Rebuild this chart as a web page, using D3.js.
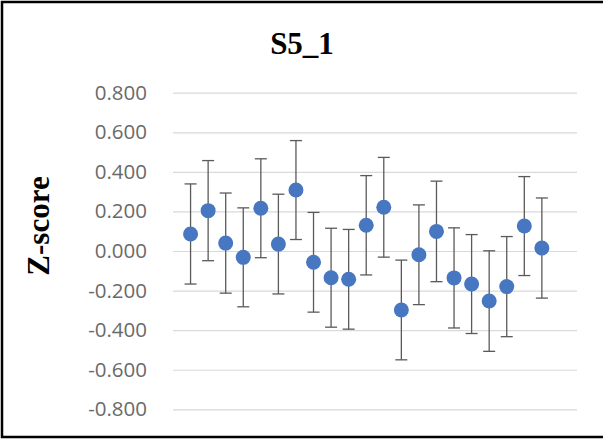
<!DOCTYPE html>
<html>
<head>
<meta charset="utf-8">
<script src="https://cdn.jsdelivr.net/npm/d3@7"></script>
<style>
  html, body { margin: 0; padding: 0; background: #fff; }
  svg { display: block; }
</style>
</head>
<body>
<script>
// ---- data ----
const title = "S5_1";
const yLabel = "Z-score";
const xValues = [1,2,3,4,5,6,7,8,9,10,11,12,13,14,15,16,17,18,19,20,21];
const zScores = [0.086, 0.204, 0.040, -0.032, 0.216, 0.035, 0.308, -0.057, -0.135, -0.143, 0.130,
                 0.221, -0.298, -0.019, 0.099, -0.136, -0.167, -0.253, -0.180, 0.126, 0.015];
const errors  = [0.253, 0.253, 0.253, 0.250, 0.250, 0.252, 0.250, 0.252, 0.250, 0.252, 0.251,
                 0.252, 0.252, 0.252, 0.254, 0.253, 0.250, 0.254, 0.253, 0.250, 0.253];
const yTicks = [0.8, 0.6, 0.4, 0.2, 0.0, -0.2, -0.4, -0.6, -0.8];
const yTickLabels = ["0.800", "0.600", "0.400", "0.200", "0.000", "-0.200", "-0.400", "-0.600", "-0.800"];

const W = 603, H = 439;
const svg = d3.select("body").append("svg").attr("width", W).attr("height", H);

// frame
svg.append("rect").attr("x", 2).attr("y", 2).attr("width", W + 4).attr("height", 435)
  .attr("fill", "#fff").attr("stroke", "#000").attr("stroke-width", 2.5);

const x = d3.scaleLinear().domain([0, 23]).range([173, 577]);
const y = d3.scaleLinear().domain([-0.8, 0.8]).range([409.3, 92.7]);

// y axis with gridlines
const yAxis = d3.axisLeft(y).tickValues(yTicks)
  .tickFormat((d, i) => yTickLabels[i])
  .tickSize(-(577 - 173)).tickPadding(26);
const gy = svg.append("g").attr("transform", "translate(173,0)").call(yAxis);
gy.select(".domain").remove();
gy.selectAll(".tick line").attr("stroke", "#d9d9d9").attr("stroke-width", 1.2);
gy.selectAll(".tick text").attr("fill", "#6a6a6a")
  .style("font-family", "'Open Sans', sans-serif").style("font-size", "20.5px");

// error bars
const eb = svg.append("g");
xValues.forEach((xv, i) => {
  const cx = x(xv), top = y(zScores[i] + errors[i]), bot = y(zScores[i] - errors[i]);
  eb.append("line").attr("x1", cx).attr("x2", cx).attr("y1", top).attr("y2", bot);
  eb.append("line").attr("x1", cx - 6).attr("x2", cx + 6).attr("y1", top).attr("y2", top);
  eb.append("line").attr("x1", cx - 6).attr("x2", cx + 6).attr("y1", bot).attr("y2", bot);
});
eb.selectAll("line").attr("stroke", "#5a5a5a").attr("stroke-width", 1.3);

// points
svg.append("g").selectAll("circle").data(xValues).join("circle")
  .attr("cx", d => x(d)).attr("cy", (d, i) => y(zScores[i])).attr("r", 7.5)
  .attr("fill", "#4677c0");

// title
svg.append("text").attr("x", 302).attr("y", 54).attr("text-anchor", "middle")
  .style("font-family", "'Liberation Serif', 'Times New Roman', serif")
  .style("font-weight", "bold").style("font-size", "31px").attr("fill", "#000")
  .text(title);

// y label
svg.append("text").attr("transform", "translate(49,226) rotate(-90)")
  .attr("text-anchor", "middle")
  .style("font-family", "'Liberation Serif', 'Times New Roman', serif")
  .style("font-weight", "bold").style("font-size", "31px").attr("fill", "#000")
  .text(yLabel);
</script>
</body>
</html>
